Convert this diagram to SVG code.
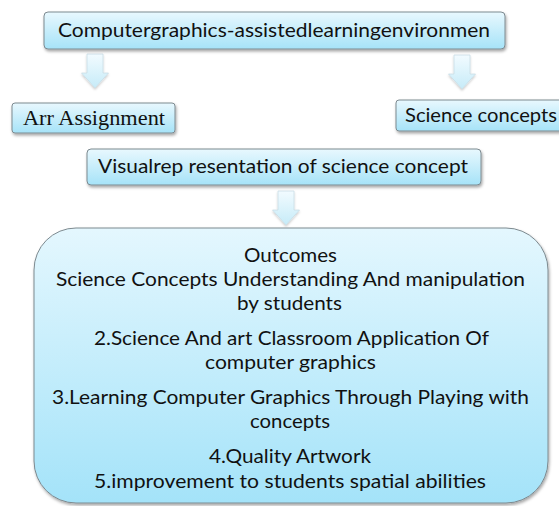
<svg xmlns="http://www.w3.org/2000/svg" width="559" height="506" viewBox="0 0 559 506">
  <defs>
    <linearGradient id="boxFill" x1="0" y1="0" x2="0" y2="1">
      <stop offset="0" stop-color="#e8f8fe"/>
      <stop offset="1" stop-color="#a6e3f8"/>
    </linearGradient>
    <linearGradient id="bigFill" x1="0" y1="0" x2="0" y2="1">
      <stop offset="0" stop-color="#e4f7fe"/>
      <stop offset="1" stop-color="#a4e3f9"/>
    </linearGradient>
    <linearGradient id="arrowFill" x1="0" y1="0" x2="0" y2="1">
      <stop offset="0" stop-color="#f2fbff"/>
      <stop offset="1" stop-color="#c6ebf8"/>
    </linearGradient>
    <filter id="shadow" x="-10%" y="-20%" width="120%" height="150%">
      <feDropShadow dx="1" dy="2" stdDeviation="1.5" flood-color="#000" flood-opacity="0.35"/>
    </filter>
    <filter id="softShadow" x="-30%" y="-20%" width="160%" height="150%">
      <feDropShadow dx="0" dy="1.5" stdDeviation="1.2" flood-color="#000" flood-opacity="0.2"/>
    </filter>
    <!-- block arrow pointing down, origin at top centre -->
    <path id="downArrow" d="M -8 0 H 8 V 19 H 13.5 L 0 34 L -13.5 19 H -8 Z"/>
  </defs>
  <style>
    .box { fill: url(#boxFill); stroke: #7d8a90; stroke-width: 1; filter: url(#shadow); }
    .big { fill: url(#bigFill); stroke: #7d8a90; stroke-width: 1; filter: url(#shadow); }
    .arrow { fill: url(#arrowFill); stroke: #c9dde6; stroke-width: 0.8; filter: url(#softShadow); }
    .t { font-family: "Lato", "Open Sans", "Liberation Sans", sans-serif; font-size: 20px; fill: #111; }
    .serif { font-family: "Liberation Serif", "Times New Roman", serif; font-size: 20px; fill: #111; }
    .c { text-anchor: middle; }
  </style>

  <g id="connectors">
    <use href="#downArrow" class="arrow" transform="translate(95,54)"/>
    <use href="#downArrow" class="arrow" transform="translate(462,55)"/>
    <use href="#downArrow" class="arrow" transform="translate(286,191)"/>
  </g>

  <g id="environment">
    <rect class="box" x="44" y="12" width="461" height="37" rx="4"/>
    <text class="t" x="58" y="37" textLength="432" lengthAdjust="spacingAndGlyphs">Computergraphics-assistedlearningenvironmen</text>
  </g>

  <g id="art-assignment">
    <rect class="box" x="12" y="103" width="163" height="30" rx="3"/>
    <text class="serif" x="23" y="125" textLength="142" lengthAdjust="spacingAndGlyphs">Arr Assignment</text>
  </g>

  <g id="science-concepts">
    <rect class="box" x="396" y="100" width="170" height="31" rx="3"/>
    <text class="t" x="405" y="122" textLength="152" lengthAdjust="spacingAndGlyphs">Science concepts</text>
  </g>

  <g id="visual-representation">
    <rect class="box" x="87" y="149" width="394" height="36" rx="4"/>
    <text class="t" x="98" y="173" textLength="370" lengthAdjust="spacingAndGlyphs">Visualrep resentation of science concept</text>
  </g>

  <g id="outcomes">
    <rect class="big" x="34" y="228" width="514" height="275" rx="42"/>
    <text class="t c" x="290.5" y="262" textLength="93" lengthAdjust="spacingAndGlyphs">Outcomes</text>
    <text class="t c" x="290.5" y="286" textLength="469" lengthAdjust="spacingAndGlyphs">Science Concepts Understanding And manipulation</text>
    <text class="t c" x="289.5" y="310" textLength="105" lengthAdjust="spacingAndGlyphs">by students</text>
    <text class="t c" x="291.5" y="345" textLength="395" lengthAdjust="spacingAndGlyphs">2.Science And art Classroom Application Of</text>
    <text class="t c" x="290.5" y="369" textLength="171" lengthAdjust="spacingAndGlyphs">computer graphics</text>
    <text class="t c" x="290.5" y="404" textLength="477" lengthAdjust="spacingAndGlyphs">3.Learning Computer Graphics Through Playing with</text>
    <text class="t c" x="290" y="428" textLength="80" lengthAdjust="spacingAndGlyphs">concepts</text>
    <text class="t c" x="290" y="463" textLength="162" lengthAdjust="spacingAndGlyphs">4.Quality Artwork</text>
    <text class="t c" x="290" y="488" textLength="392" lengthAdjust="spacingAndGlyphs">5.improvement to students spatial abilities</text>
  </g>
</svg>
